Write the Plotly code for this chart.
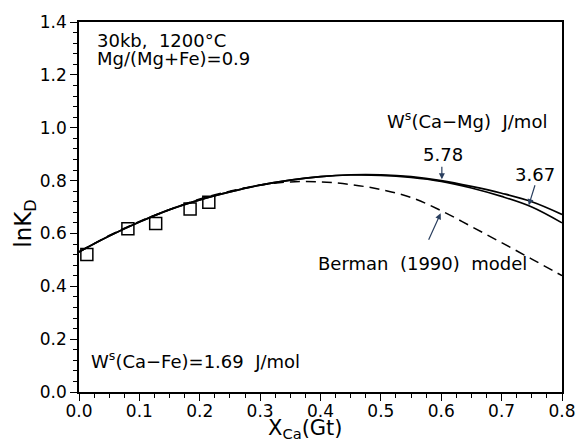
import plotly.graph_objects as go

# Experimental data (squares)
x_exp = [0.013, 0.081, 0.127, 0.184, 0.215]
y_exp = [0.520, 0.618, 0.638, 0.692, 0.718]

# Model curves
x_curve = [0.0, 0.05, 0.1, 0.15, 0.2, 0.25, 0.3, 0.35, 0.4, 0.45, 0.5, 0.55, 0.6, 0.65, 0.7, 0.75, 0.8]
y_578 = [0.530, 0.590, 0.643, 0.690, 0.727, 0.757, 0.783, 0.802, 0.815, 0.822, 0.822, 0.815, 0.800, 0.778, 0.752, 0.720, 0.672]
y_367 = [0.530, 0.590, 0.643, 0.690, 0.727, 0.757, 0.783, 0.802, 0.815, 0.821, 0.820, 0.812, 0.797, 0.772, 0.740, 0.700, 0.640]
y_berman = [0.530, 0.592, 0.645, 0.690, 0.730, 0.760, 0.783, 0.795, 0.795, 0.785, 0.766, 0.736, 0.686, 0.626, 0.565, 0.503, 0.440]

x_ticks = [0.0, 0.1, 0.2, 0.3, 0.4, 0.5, 0.6, 0.7, 0.8]
y_ticks = [0.0, 0.2, 0.4, 0.6, 0.8, 1.0, 1.2, 1.4]

FONT = "DejaVu Sans, Liberation Sans, sans-serif"

# plot-area pixel box (for placing axis titles)
L, R, T, B = 79, 574, 19, 392

fig = go.Figure()
line_style = dict(color="black", width=1.7, shape="spline")
fig.add_trace(go.Scatter(x=x_curve, y=y_578, mode="lines", line=line_style, showlegend=False))
fig.add_trace(go.Scatter(x=x_curve, y=y_367, mode="lines", line=line_style, showlegend=False))
fig.add_trace(go.Scatter(x=x_curve, y=y_berman, mode="lines",
                         line=dict(color="black", width=1.5, dash="10px,6px", shape="spline"),
                         showlegend=False))
fig.add_trace(go.Scatter(x=x_exp, y=y_exp, mode="markers",
                         marker=dict(symbol="square-open", size=12, color="black", line=dict(width=1.5)),
                         showlegend=False))

ann_font = dict(family=FONT, size=18, color="black")
annotations = [
    dict(x=0.027, y=1.33, text="30kb,  1200°C", xanchor="left", yanchor="middle", showarrow=False),
    dict(x=0.027, y=1.262, text="Mg/(Mg+Fe)=0.9", xanchor="left", yanchor="middle", showarrow=False),
    dict(x=0.506, y=1.029, text="W<sup>s</sup>(Ca−Mg)  J/mol", xanchor="left", yanchor="middle", showarrow=False),
    dict(x=0.603, y=0.897, text="5.78", xanchor="center", yanchor="middle", showarrow=False),
    dict(x=0.755, y=0.822, text="3.67", xanchor="center", yanchor="middle", showarrow=False),
    dict(x=0.392, y=0.488, text="Berman  (1990)  model", xanchor="left", yanchor="middle", showarrow=False),
    dict(x=0.017, y=0.12, text="W<sup>s</sup>(Ca−Fe)=1.69  J/mol", xanchor="left", yanchor="middle", showarrow=False),
    # arrows
    dict(x=0.601, y=0.805, ax=0.601, ay=0.858, axref="x", ayref="y",
         text="", showarrow=True, arrowhead=2, arrowsize=1, arrowwidth=1.2),
    dict(x=0.745, y=0.707, ax=0.756, ay=0.788, axref="x", ayref="y",
         text="", showarrow=True, arrowhead=2, arrowsize=1, arrowwidth=1.2),
    dict(x=0.599, y=0.676, ax=0.578, ay=0.570, axref="x", ayref="y",
         text="", showarrow=True, arrowhead=2, arrowsize=1, arrowwidth=1.2),
]
for a in annotations:
    a["xref"] = "x"
    a["yref"] = "y"
    a["font"] = ann_font
    fig.add_annotation(**a)

# axis titles as annotations for exact placement
fig.add_annotation(xref="paper", yref="paper",
                   x=(311 - L) / (R - L), y=-(444 - B) / (B - T),
                   xanchor="center", yanchor="bottom",
                   text="X<sub>Ca</sub>(Gt)", showarrow=False,
                   font=dict(family=FONT, size=21, color="black"))
fig.add_annotation(xref="paper", yref="paper",
                   x=-(L - 24) / (R - L), y=(B - 222) / (B - T),
                   xanchor="center", yanchor="middle",
                   text="lnK<sub>D</sub>", textangle=-90, showarrow=False,
                   font=dict(family=FONT, size=23, color="black"))

tickfont = dict(family=FONT, size=17, color="black")
axis_common = dict(
    showgrid=False, zeroline=False, showline=True, linecolor="black", linewidth=1.5,
    mirror=True, ticks="outside", ticklen=7, tickwidth=1.3, tickcolor="black",
    tickfont=tickfont,
)
fig.update_xaxes(range=[0, 0.8], tickvals=x_ticks, ticktext=[f"{v:.1f}" for v in x_ticks],
                 ticklabelstandoff=-4,
                 minor=dict(dtick=0.025, tick0=0, ticks="outside", ticklen=4, tickwidth=1.2, tickcolor="black"),
                 **axis_common)
fig.update_yaxes(range=[0, 1.4], tickvals=y_ticks, ticktext=[f"{v:.1f}" for v in y_ticks],
                 minor=dict(dtick=0.04, tick0=0, ticks="outside", ticklen=4, tickwidth=1.2, tickcolor="black"),
                 **axis_common)

fig.update_layout(
    width=588, height=439,
    margin=dict(l=L, r=588 - R, t=T, b=439 - B),
    plot_bgcolor="white", paper_bgcolor="white",
    font=dict(family=FONT, color="black"),
)

# remove the default 8px page margin so the figure fills the window exactly
fig.write_html("out.html", config={"displayModeBar": False},
               post_script="document.body.style.margin='0';document.body.style.overflow='hidden';")
